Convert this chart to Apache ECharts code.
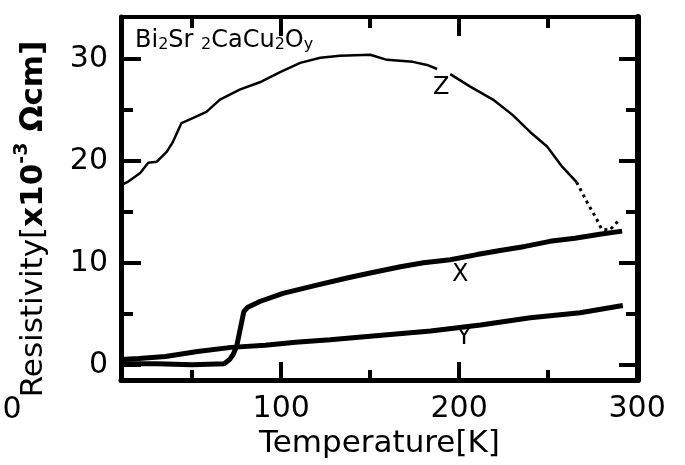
<!DOCTYPE html>
<html>
<head>
<meta charset="utf-8">
<script src="https://cdn.jsdelivr.net/npm/echarts@6/dist/echarts.min.js"></script>
<style>html,body{margin:0;padding:0;background:#fff;}#c{width:685px;height:465px;}</style>
</head>
<body>
<div id="c"></div>
<script>
// ---- data ----
const zTemp = [10, 13.5, 20.8, 25.3, 30, 35.8, 39, 44, 50.6, 58, 65.6, 77, 88, 99.4, 110.7, 122, 133, 150, 159.5, 174, 182, 187.6, 191, 195, 206, 219, 230, 240, 249.4, 258, 266, 272, 277.5, 280, 284.6, 290];
const zRes  = [17.6, 17.9, 18.8, 19.8, 19.9, 20.9, 21.8, 23.7, 24.2, 24.8, 26.0, 27.0, 27.7, 28.7, 29.6, 30.1, 30.3, 30.4, 29.9, 29.7, 29.4, 29.0, null, 28.5, 27.3, 26.0, 24.5, 22.8, 21.4, 19.4, 17.9, 15.9, 14.2, 13.3, 13.2, 14.2];
const xTemp = [10, 30, 50, 68, 71, 73, 75, 77, 79, 81, 88, 101, 120, 137, 150, 167, 180, 195, 210, 223, 237, 251, 265, 279, 291.6];
const xRes  = [0.1, 0.1, 0.0, 0.1, 0.5, 1.0, 1.8, 3.5, 5.2, 5.6, 6.2, 7.0, 7.8, 8.5, 9.0, 9.6, 10.0, 10.3, 10.8, 11.2, 11.6, 12.1, 12.4, 12.8, 13.1];
const yTemp = [10, 20, 35, 53, 72, 91, 108, 127.5, 150, 184, 212, 240, 268, 292];
const yRes  = [0.5, 0.6, 0.8, 1.3, 1.7, 1.9, 2.2, 2.45, 2.8, 3.3, 3.9, 4.6, 5.1, 5.8];
const curveNames = ['Z', 'X', 'Y'];
const labelTemp = [189.9, 200.6, 202.8];
const labelRes  = [27.2, 8.8, 2.65];
const xMajorTicks = [100, 200, 300];
const xMinorTicks = [50, 150, 250];
const yMajorTicks = [0, 10, 20, 30];
const yMinorTicks = [5, 15, 25];
const zDottedFrom = 266;

// ---- build ----
const zip = (a, b) => a.map((v, i) => [v, b[i]]);
const zAll = zip(zTemp, zRes);
const zSplit = zTemp.indexOf(zDottedFrom);
const zSolid = zAll.slice(0, zSplit + 1);
const zDot = zAll.slice(zSplit);
const FONT = 'DejaVu Sans';
const X_MIN = 10, X_MAX = 300.5, Y_MIN = -1.5, Y_MAX = 34.1;

function xAx(pos, ticks, len, opts) {
  return Object.assign({
    type: 'value', gridIndex: 0, position: pos, min: X_MIN, max: X_MAX,
    axisLine: { show: false, onZero: false },
    axisTick: { show: true, inside: true, length: len, customValues: ticks, lineStyle: { color: '#000', width: 4 } },
    axisLabel: { show: false },
    splitLine: { show: false }
  }, opts || {});
}
function yAx(pos, ticks, len, opts) {
  return Object.assign({
    type: 'value', gridIndex: 0, position: pos, min: Y_MIN, max: Y_MAX,
    axisLine: { show: false, onZero: false },
    axisTick: { show: true, inside: true, length: len, customValues: ticks, lineStyle: { color: '#000', width: 4 } },
    axisLabel: { show: false },
    splitLine: { show: false }
  }, opts || {});
}

const chart = echarts.init(document.getElementById('c'), null, { renderer: 'canvas' });
chart.setOption({
  animation: false,
  backgroundColor: '#fff',
  grid: { left: 121, right: 47, top: 17, bottom: 85 },
  xAxis: [
    xAx('bottom', xMajorTicks, 18, {
      axisLine: { show: true, onZero: false, lineStyle: { color: '#000', width: 5 } },
      axisLabel: { show: true, customValues: xMajorTicks, color: '#000', fontSize: 30, fontFamily: FONT, margin: 14 },
      name: 'Temperature[K]', nameLocation: 'middle', nameGap: 40,
      nameTextStyle: { color: '#000', fontSize: 31, fontFamily: FONT }
    }),
    xAx('bottom', xMinorTicks, 10),
    xAx('top', xMajorTicks, 19, { axisLine: { show: true, onZero: false, lineStyle: { color: '#000', width: 4 } } }),
    xAx('top', xMinorTicks, 11)
  ],
  yAxis: [
    yAx('left', yMajorTicks, 20, {
      axisLine: { show: true, onZero: false, lineStyle: { color: '#000', width: 5 } },
      axisLabel: { show: true, customValues: yMajorTicks, color: '#000', fontSize: 30, fontFamily: FONT, margin: 13 }
    }),
    yAx('left', yMinorTicks, 12),
    yAx('right', yMajorTicks, 19, { axisLine: { show: true, onZero: false, lineStyle: { color: '#000', width: 6 } } }),
    yAx('right', yMinorTicks, 12)
  ],
  series: [
    { type: 'line', name: 'Z', data: zSolid, showSymbol: false, connectNulls: false,
      lineStyle: { color: '#000', width: 2.5 }, xAxisIndex: 0, yAxisIndex: 0, silent: true },
    { type: 'line', name: 'Z tail', data: zDot, showSymbol: false,
      lineStyle: { color: '#000', width: 3, type: [3, 4] }, xAxisIndex: 0, yAxisIndex: 0, silent: true },
    { type: 'line', name: 'X', data: zip(xTemp, xRes), showSymbol: false,
      lineStyle: { color: '#000', width: 5 }, xAxisIndex: 0, yAxisIndex: 0, silent: true },
    { type: 'line', name: 'Y', data: zip(yTemp, yRes), showSymbol: false,
      lineStyle: { color: '#000', width: 5 }, xAxisIndex: 0, yAxisIndex: 0, silent: true },
    { type: 'scatter', name: 'labels', symbolSize: 0, xAxisIndex: 0, yAxisIndex: 0, silent: true,
      itemStyle: { opacity: 1, color: '#000' },
      data: curveNames.map((n, i) => ({ value: [labelTemp[i], labelRes[i]], name: n })),
      label: { show: true, position: 'inside', formatter: p => p.name, color: '#000', opacity: 1, fontSize: 24, fontFamily: FONT } }
  ],
  graphic: [
    { type: 'text', left: 135, top: 29, silent: true,
      style: {
        text: '{m|Bi}{s|2}{m|Sr }{s|2}{m|CaCu}{s|2}{m|O}{s|y}',
        fill: '#000',
        rich: {
          m: { fontSize: 24, fontFamily: FONT, color: '#000', verticalAlign: 'bottom', lineHeight: 27 },
          s: { fontSize: 16, fontFamily: FONT, color: '#000', verticalAlign: 'bottom', lineHeight: 27 }
        }
      } },
    { type: 'text', x: 31, y: 219, rotation: Math.PI / 2, silent: true,
      style: {
        text: '{n|Resistivity[}{b|x10}{p|-3}{b| Ωcm]}',
        align: 'center', verticalAlign: 'middle', fill: '#000',
        rich: {
          n: { fontSize: 31, fontFamily: FONT, color: '#000', verticalAlign: 'bottom', lineHeight: 36 },
          b: { fontSize: 31, fontFamily: FONT, fontWeight: 'bold', color: '#000', verticalAlign: 'bottom', lineHeight: 36 },
          p: { fontSize: 19, fontFamily: FONT, fontWeight: 'bold', color: '#000', verticalAlign: 'top', lineHeight: 36 }
        }
      } },
    { type: 'text', x: 12, y: 410, silent: true,
      style: { text: '0', align: 'center', verticalAlign: 'middle', fill: '#000', fontSize: 30, fontFamily: FONT } }
  ]
});
</script>
</body>
</html>
